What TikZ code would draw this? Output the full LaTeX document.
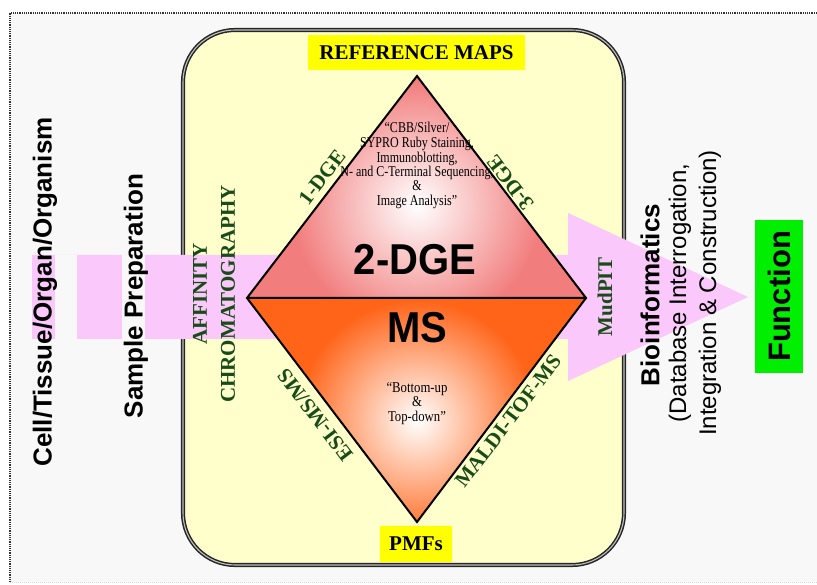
\documentclass[tikz,border=0pt]{standalone}
\usepackage{fontspec}
\setmainfont{Liberation Serif}
\setsansfont{Liberation Sans}
\usepackage{graphicx}
\definecolor{bggray}{RGB}{248,248,248}
\definecolor{lyellow}{RGB}{255,255,204}
\definecolor{pinkc}{RGB}{250,200,250}
\definecolor{sal}{RGB}{242,125,125}
\definecolor{orng}{RGB}{255,100,25}
\definecolor{dkgreen}{RGB}{25,75,25}
\definecolor{fgreen}{RGB}{0,238,0}
\definecolor{yel}{RGB}{255,255,0}
\begin{document}
\begin{tikzpicture}[x=1pt,y=-1pt,
  serifb/.style={font=\fontsize{21}{28}\selectfont\bfseries, inner sep=0pt},
  greenlbl/.style={serifb, text=dkgreen},
  sansb/.style={font=\sffamily\bfseries\fontsize{26}{30}\selectfont, inner sep=0pt},
  sansr/.style={font=\sffamily\fontsize{24}{30}\selectfont, inner sep=0pt, align=center},
  bigsans/.style={font=\sffamily\bfseries\fontsize{40}{40}\selectfont, inner sep=0pt},
  quote/.style={font=\fontsize{15}{14}\selectfont, inner sep=0pt},
  yelbox/.style={serifb, fill=yel, inner sep=0pt}]
\useasboundingbox (0,0) rectangle (817,585);
\fill[white] (0,0) rectangle (817,585);
\fill[bggray] (10,13) rectangle (817,582);
\draw[densely dotted, line width=1.2pt, black!80] (817,13) -- (10,13) -- (10,582);
\draw[densely dotted, line width=1pt, black!15] (10,582) -- (817,582);
% rounded frame
\draw[fill=lyellow, rounded corners=52pt, draw=black!85, double=black!25,
      double distance=1.1pt, line width=1.5pt] (183,30) rectangle (624,565);
% pink arrow
\fill[pinkc] (32,255) -- (568,255) -- (568,213) -- (748,297) -- (568,381)
  -- (568,339) -- (32,339) -- cycle;
\fill[bggray] (55,255) rectangle (77,339);
\fill[bggray] (122,255) rectangle (145,339);
% diamond
\coordinate (T) at (417,76);
\coordinate (L) at (247,298);
\coordinate (R) at (586,298);
\coordinate (B) at (417,522);
\fill[sal] (T) -- (L) -- (R) -- cycle;
\begin{scope}
  \clip (T) -- (L) -- (R) -- cycle;
  \shade[inner color=white, outer color=sal] (417,205) circle (125pt);
\end{scope}
\fill[orng] (L) -- (R) -- (B) -- cycle;
\begin{scope}
  \clip (L) -- (R) -- (B) -- cycle;
  \shade[inner color=white, outer color=orng] (417,420) circle (120pt);
\end{scope}
\draw[line width=2pt, line join=miter] (T) -- (R) -- (B) -- (L) -- cycle (L) -- (R);
% labels
\node[yelbox, minimum width=217pt, minimum height=35pt] (refmaps) at (416.5,52.5) {REFERENCE MAPS};
\node[yelbox, minimum width=72pt, minimum height=36pt] (pmfs) at (416,544) {PMFs};
\node[quote] (q1) at (417,166) {\scalebox{0.8}[1]{\begin{tabular}{@{}c@{}}“CBB/Silver/\\ SYPRO Ruby Staining,\\ Immunoblotting,\\ N- and C-Terminal Sequencing,\\ \&\\ Image Analysis”\end{tabular}}};
\node[quote] (q2) at (417,404) {\scalebox{0.85}[1]{\begin{tabular}{@{}c@{}}“Bottom-up\\ \&\\ Top-down”\end{tabular}}};
\node[bigsans] (dge) at (415,260) {\scalebox{1}[1.08]{2-DGE}};
\node[bigsans] (ms) at (417,328) {\scalebox{1}[1.08]{MS}};
\node[greenlbl, rotate=52.6] (d1) at (322,177) {1-DGE};
\node[greenlbl, rotate=127.4] (d3) at (510,183) {3-DGE};
\node[greenlbl, rotate=127.4] (esi) at (315,415) {ESI-MS/MS};
\node[greenlbl, rotate=52.6] (maldi) at (508,421) {MALDI-TOF-MS};
\node[greenlbl, rotate=90, align=center] (aff) at (214,294) {AFFINITY\\CHROMATOGRAPHY};
\node[greenlbl, rotate=90] (mud) at (605,297) {MudPIT};
\node[sansb, rotate=90] (cell) at (45,292) {Cell/Tissue/Organ/Organism};
\node[sansb, rotate=90] (prep) at (136,296) {Sample Preparation};
\node[sansb, rotate=90] (bio) at (650,295) {Bioinformatics};
\node[sansr, rotate=90] (db) at (695,293) {(Database Interrogation,\\Integration \& Construction)};
\node[fill=fgreen, rotate=90, minimum width=153pt, minimum height=48pt, inner sep=0pt,
      font=\sffamily\bfseries\fontsize{31}{31}\selectfont] (func) at (779,296.5) {Function};
\end{tikzpicture}
\end{document}
